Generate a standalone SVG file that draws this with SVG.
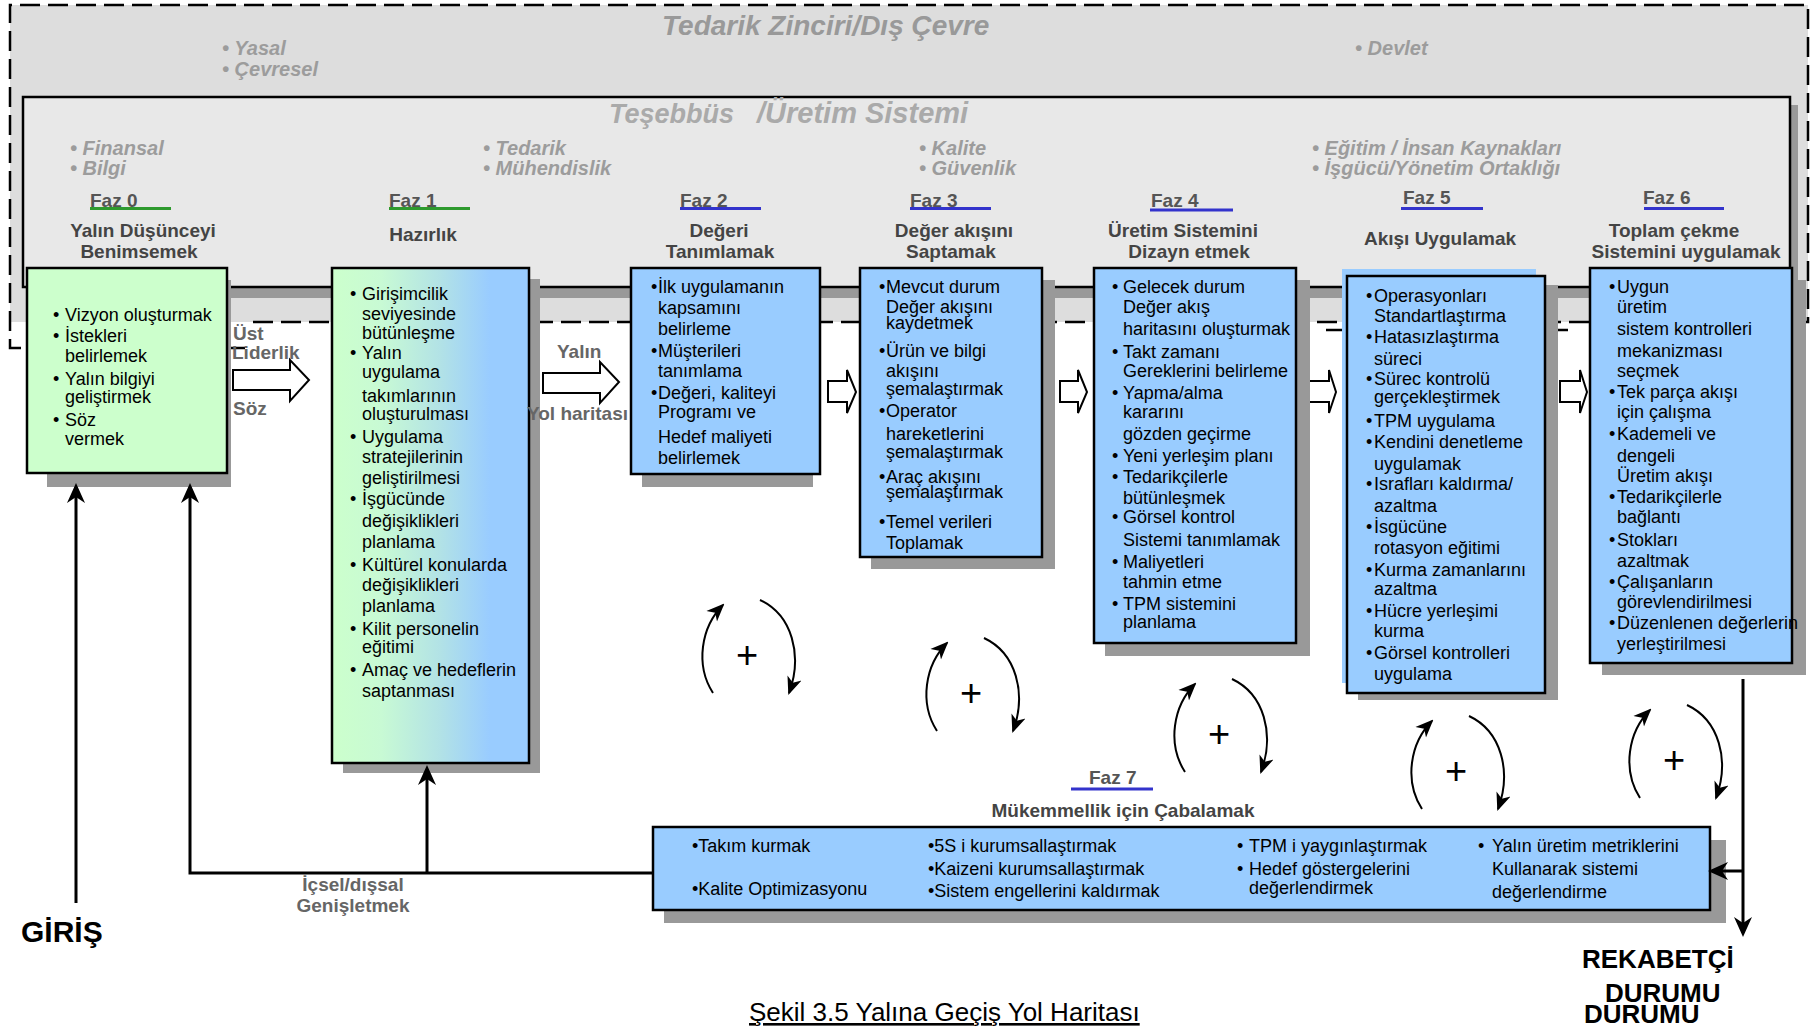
<svg xmlns="http://www.w3.org/2000/svg" width="1811" height="1031" viewBox="0 0 1811 1031">
<style>
text{font-family:"Liberation Sans",Arial,sans-serif;}
.b{font-size:18px;fill:#000;}
.t{font-size:19px;font-weight:bold;fill:#444;text-anchor:middle;}
.f{font-size:19px;font-weight:bold;fill:#555;}
.g{font-size:20px;font-weight:bold;font-style:italic;fill:#9c9c9c;}
.al{font-size:19px;font-weight:bold;fill:#666;}
.big{font-weight:bold;fill:#000;}
.box{stroke:#000;stroke-width:2.5;}
.sh{fill:#999;}
.blue{fill:#99ccff;}
.con{fill:none;stroke:#000;stroke-width:3;}
.loop{fill:none;stroke:#000;stroke-width:2;}
.barrow{fill:#fff;stroke:#000;stroke-width:2;}
.ulg{stroke:#2e9a2e;stroke-width:3;}
.ulb{stroke:#3333cc;stroke-width:3;}
.plus{font-size:38px;fill:#000;text-anchor:middle;}
</style>
<defs>
<linearGradient id="g1" x1="0" y1="0" x2="1" y2="0">
<stop offset="0" stop-color="#ccffcc"/>
<stop offset="0.25" stop-color="#c8fad4"/>
<stop offset="0.55" stop-color="#b2e2e6"/>
<stop offset="0.8" stop-color="#99ccff"/>
<stop offset="1" stop-color="#99ccff"/>
</linearGradient>
<marker id="ah" viewBox="0 0 20 20" refX="16" refY="10" markerWidth="20" markerHeight="20" markerUnits="userSpaceOnUse" orient="auto">
<path d="M0,1 L20,10 L0,19 L6,10 z" fill="#000"/>
</marker>
<marker id="ahs" viewBox="0 0 18 18" refX="16" refY="9" markerWidth="18" markerHeight="18" markerUnits="userSpaceOnUse" orient="auto">
<path d="M0,1.5 L18,9 L0,16.5 L5,9 z" fill="#000"/>
</marker>
<g id="loopArcs">
<path class="loop" d="M -34,38 C -52,10 -46,-28 -24,-50" marker-end="url(#ahs)"/>
<path class="loop" d="M 13,-55 C 45,-40 56,0 42,38" marker-end="url(#ahs)"/>
</g>
</defs>

<!-- Outer environment -->
<g id="env">
<rect x="10" y="5" width="1798" height="317" fill="#dddddd"/>
<path d="M253,322 H1808 V5 H10 V348 H250" fill="none" stroke="#000" stroke-width="2.5" stroke-dasharray="20 8"/>
<text x="662" y="35" font-size="28" font-weight="bold" font-style="italic" fill="#999">Tedarik Zinciri/Dış Çevre</text>
<text class="g" x="222" y="55">• Yasal</text>
<text class="g" x="222" y="76">• Çevresel</text>
<text class="g" x="1355" y="55">• Devlet</text>
</g>

<!-- Inner enterprise system -->
<g id="enterprise">
<rect x="1790" y="105" width="8" height="193" class="sh"/>
<rect x="33" y="288" width="1765" height="10" class="sh"/>
<rect x="23" y="97" width="1767" height="190" fill="#e8e8e8" stroke="#000" stroke-width="2.5"/>
<text x="609" y="123" font-size="27" font-weight="bold" font-style="italic" fill="#aaa">Teşebbüs</text>
<text x="757" y="123" font-size="29" font-weight="bold" font-style="italic" fill="#aaa">/Üretim Sistemi</text>
<text class="g" x="70" y="155">• Finansal</text>
<text class="g" x="70" y="175">• Bilgi</text>
<text class="g" x="483" y="155">• Tedarik</text>
<text class="g" x="483" y="175">• Mühendislik</text>
<text class="g" x="919" y="155">• Kalite</text>
<text class="g" x="919" y="175">• Güvenlik</text>
<text class="g" x="1312" y="155">• Eğitim / İnsan Kaynakları</text>
<text class="g" x="1312" y="175">• İşgücü/Yönetim Ortaklığı</text>

<text class="f" x="90" y="207">Faz 0</text><line class="ulg" x1="90" y1="208.5" x2="171" y2="208.5"/>
<text class="f" x="389" y="207">Faz 1</text><line class="ulg" x1="389" y1="208.5" x2="470" y2="208.5"/>
<text class="f" x="680" y="207">Faz 2</text><line class="ulb" x1="680" y1="208.5" x2="761" y2="208.5"/>
<text class="f" x="910" y="207">Faz 3</text><line class="ulb" x1="910" y1="208.5" x2="991" y2="208.5"/>
<text class="f" x="1151" y="207">Faz 4</text><line class="ulb" x1="1150" y1="210" x2="1233" y2="210"/>
<text class="f" x="1403" y="204">Faz 5</text><line class="ulb" x1="1401" y1="208.5" x2="1483" y2="208.5"/>
<text class="f" x="1643" y="204">Faz 6</text><line class="ulb" x1="1644" y1="208.5" x2="1724" y2="208.5"/>

<text class="t" x="143" y="237">Yalın Düşünceyi</text>
<text class="t" x="139" y="258">Benimsemek</text>
<text class="t" x="423" y="241">Hazırlık</text>
<text class="t" x="719" y="237">Değeri</text>
<text class="t" x="720" y="258">Tanımlamak</text>
<text class="t" x="954" y="237">Değer akışını</text>
<text class="t" x="951" y="258">Saptamak</text>
<text class="t" x="1183" y="237">Üretim Sistemini</text>
<text class="t" x="1189" y="258">Dizayn etmek</text>
<text class="t" x="1440" y="245">Akışı Uygulamak</text>
<text class="t" x="1674" y="237">Toplam çekme</text>
<text class="t" x="1686" y="258">Sistemini uygulamak</text>
</g>

<!-- small fragments -->
<g id="fragments">
<line x1="1326" y1="330" x2="1347" y2="330" stroke="#000" stroke-width="2.5"/>
<line x1="1558" y1="330" x2="1568" y2="330" stroke="#000" stroke-width="2.5"/>
</g>

<!-- block arrows -->
<g id="blockArrows">
<polygon class="barrow" points="233,370 290,370 290,360 309,380 290,401 290,390 233,390"/>
<polygon class="barrow" points="543,373 600,373 600,362 619,382 600,403 600,393 543,393"/>
<polygon class="barrow" points="828,381 847,381 847,370 856,392 847,413 847,402 828,402"/>
<polygon class="barrow" points="1060,381 1078,381 1078,370 1087,392 1078,413 1078,402 1060,402"/>
<polygon class="barrow" points="1309,381 1329,381 1329,370 1336,392 1329,413 1329,402 1309,402"/>
<polygon class="barrow" points="1560,381 1580,381 1580,370 1587,392 1580,413 1580,402 1560,402"/>
</g>

<!-- Faz 0 -->
<g id="faz0">
<rect x="47" y="280" width="184" height="207" class="sh"/>
<rect x="27" y="268" width="200" height="205" fill="#ccffcc" class="box"/>
<text class="b" y="321"><tspan x="53">•</tspan><tspan x="65">Vizyon oluşturmak</tspan></text>
<text class="b" y="342"><tspan x="53">•</tspan><tspan x="65">İstekleri</tspan></text>
<text class="b" x="65" y="362">belirlemek</text>
<text class="b" y="385"><tspan x="53">•</tspan><tspan x="65">Yalın bilgiyi</tspan></text>
<text class="b" x="65" y="403">geliştirmek</text>
<text class="b" y="426"><tspan x="53">•</tspan><tspan x="65">Söz</tspan></text>
<text class="b" x="65" y="445">vermek</text>
</g>

<!-- Faz 1 -->
<g id="faz1">
<rect x="343" y="279" width="197" height="494" class="sh"/>
<rect x="332" y="268" width="197" height="495" fill="url(#g1)" class="box"/>
<text class="b" y="300"><tspan x="350">•</tspan><tspan x="362">Girişimcilik</tspan></text>
<text class="b" x="362" y="320">seviyesinde</text>
<text class="b" x="362" y="339">bütünleşme</text>
<text class="b" y="359"><tspan x="350">•</tspan><tspan x="362">Yalın</tspan></text>
<text class="b" x="362" y="378">uygulama</text>
<text class="b" x="362" y="402">takımlarının</text>
<text class="b" x="362" y="420">oluşturulması</text>
<text class="b" y="443"><tspan x="350">•</tspan><tspan x="362">Uygulama</tspan></text>
<text class="b" x="362" y="463">stratejilerinin</text>
<text class="b" x="362" y="484">geliştirilmesi</text>
<text class="b" y="505"><tspan x="350">•</tspan><tspan x="362">İşgücünde</tspan></text>
<text class="b" x="362" y="527">değişiklikleri</text>
<text class="b" x="362" y="548">planlama</text>
<text class="b" y="571"><tspan x="350">•</tspan><tspan x="362">Kültürel konularda</tspan></text>
<text class="b" x="362" y="591">değişiklikleri</text>
<text class="b" x="362" y="612">planlama</text>
<text class="b" y="635"><tspan x="350">•</tspan><tspan x="362">Kilit personelin</tspan></text>
<text class="b" x="362" y="653">eğitimi</text>
<text class="b" y="676"><tspan x="350">•</tspan><tspan x="362">Amaç ve hedeflerin</tspan></text>
<text class="b" x="362" y="697">saptanması</text>
</g>

<!-- arrow labels -->
<g id="arrowLabels">
<text class="al" x="233" y="340">Üst</text>
<text class="al" x="232" y="359">Liderlik</text>
<text class="al" x="233" y="415">Söz</text>
<text class="al" x="557" y="358">Yalın</text>
<text class="al" x="527" y="420">Yol haritası</text>
</g>

<!-- Faz 2 -->
<g id="faz2">
<rect x="642" y="280" width="171" height="207" class="sh"/>
<rect x="631" y="268" width="189" height="206" class="blue box"/>
<text class="b" y="293"><tspan x="651">•</tspan><tspan x="658">İlk uygulamanın</tspan></text>
<text class="b" x="658" y="314">kapsamını</text>
<text class="b" x="658" y="335">belirleme</text>
<text class="b" y="357"><tspan x="651">•</tspan><tspan x="658">Müşterileri</tspan></text>
<text class="b" x="658" y="377">tanımlama</text>
<text class="b" y="399"><tspan x="651">•</tspan><tspan x="658">Değeri, kaliteyi</tspan></text>
<text class="b" x="658" y="418">Programı ve</text>
<text class="b" x="658" y="443">Hedef maliyeti</text>
<text class="b" x="658" y="464">belirlemek</text>
</g>

<!-- Faz 3 -->
<g id="faz3">
<rect x="871" y="280" width="184" height="289" class="sh"/>
<rect x="860" y="268" width="182" height="289" class="blue box"/>
<text class="b" y="293"><tspan x="879">•</tspan><tspan x="886">Mevcut durum</tspan></text>
<text class="b" x="886" y="313">Değer akışını</text>
<text class="b" x="886" y="329">kaydetmek</text>
<text class="b" y="357"><tspan x="879">•</tspan><tspan x="886">Ürün ve bilgi</tspan></text>
<text class="b" x="886" y="377">akışını</text>
<text class="b" x="886" y="395">şemalaştırmak</text>
<text class="b" y="417"><tspan x="879">•</tspan><tspan x="886">Operator</tspan></text>
<text class="b" x="886" y="440">hareketlerini</text>
<text class="b" x="886" y="458">şemalaştırmak</text>
<text class="b" y="483"><tspan x="879">•</tspan><tspan x="886">Araç akışını</tspan></text>
<text class="b" x="886" y="498">şemalaştırmak</text>
<text class="b" y="528"><tspan x="879">•</tspan><tspan x="886">Temel verileri</tspan></text>
<text class="b" x="886" y="549">Toplamak</text>
</g>

<!-- Faz 4 -->
<g id="faz4">
<rect x="1105" y="280" width="205" height="376" class="sh"/>
<rect x="1094" y="268" width="202" height="375" class="blue box"/>
<text class="b" y="293"><tspan x="1112">•</tspan><tspan x="1123">Gelecek durum</tspan></text>
<text class="b" x="1123" y="313">Değer akış</text>
<text class="b" x="1123" y="335">haritasını oluşturmak</text>
<text class="b" y="358"><tspan x="1112">•</tspan><tspan x="1123">Takt zamanı</tspan></text>
<text class="b" x="1123" y="377">Gereklerini belirleme</text>
<text class="b" y="399"><tspan x="1112">•</tspan><tspan x="1123">Yapma/alma</tspan></text>
<text class="b" x="1123" y="418">kararını</text>
<text class="b" x="1123" y="440">gözden geçirme</text>
<text class="b" y="462"><tspan x="1112">•</tspan><tspan x="1123">Yeni yerleşim planı</tspan></text>
<text class="b" y="483"><tspan x="1112">•</tspan><tspan x="1123">Tedarikçilerle</tspan></text>
<text class="b" x="1123" y="504">bütünleşmek</text>
<text class="b" y="523"><tspan x="1112">•</tspan><tspan x="1123">Görsel kontrol</tspan></text>
<text class="b" x="1123" y="546">Sistemi tanımlamak</text>
<text class="b" y="568"><tspan x="1112">•</tspan><tspan x="1123">Maliyetleri</tspan></text>
<text class="b" x="1123" y="588">tahmin etme</text>
<text class="b" y="610"><tspan x="1112">•</tspan><tspan x="1123">TPM sistemini</tspan></text>
<text class="b" x="1123" y="628">planlama</text>
</g>

<!-- Faz 5 -->
<g id="faz5">
<rect x="1358" y="285" width="200" height="415" class="sh"/>
<rect x="1342" y="269" width="194" height="414" class="blue"/>
<rect x="1347" y="276" width="198" height="417" class="blue box"/>
<text class="b" y="302"><tspan x="1366">•</tspan><tspan x="1374">Operasyonları</tspan></text>
<text class="b" x="1374" y="322">Standartlaştırma</text>
<text class="b" y="343"><tspan x="1366">•</tspan><tspan x="1374">Hatasızlaştırma</tspan></text>
<text class="b" x="1374" y="365">süreci</text>
<text class="b" y="385"><tspan x="1366">•</tspan><tspan x="1374">Sürec kontrolü</tspan></text>
<text class="b" x="1374" y="403">gerçekleştirmek</text>
<text class="b" y="427"><tspan x="1366">•</tspan><tspan x="1374">TPM uygulama</tspan></text>
<text class="b" y="448"><tspan x="1366">•</tspan><tspan x="1374">Kendini denetleme</tspan></text>
<text class="b" x="1374" y="470">uygulamak</text>
<text class="b" y="490"><tspan x="1366">•</tspan><tspan x="1374">Israfları kaldırma/</tspan></text>
<text class="b" x="1374" y="512">azaltma</text>
<text class="b" y="533"><tspan x="1366">•</tspan><tspan x="1374">İsgücüne</tspan></text>
<text class="b" x="1374" y="554">rotasyon eğitimi</text>
<text class="b" y="576"><tspan x="1366">•</tspan><tspan x="1374">Kurma zamanlarını</tspan></text>
<text class="b" x="1374" y="595">azaltma</text>
<text class="b" y="617"><tspan x="1366">•</tspan><tspan x="1374">Hücre yerleşimi</tspan></text>
<text class="b" x="1374" y="637">kurma</text>
<text class="b" y="659"><tspan x="1366">•</tspan><tspan x="1374">Görsel kontrolleri</tspan></text>
<text class="b" x="1374" y="680">uygulama</text>
</g>

<!-- Faz 6 -->
<g id="faz6">
<rect x="1602" y="280" width="204" height="395" class="sh"/>
<rect x="1590" y="268" width="202" height="395" class="blue box"/>
<text class="b" y="293"><tspan x="1609">•</tspan><tspan x="1617">Uygun</tspan></text>
<text class="b" x="1617" y="313">üretim</text>
<text class="b" x="1617" y="335">sistem kontrolleri</text>
<text class="b" x="1617" y="357">mekanizması</text>
<text class="b" x="1617" y="377">seçmek</text>
<text class="b" y="398"><tspan x="1609">•</tspan><tspan x="1617">Tek parça akışı</tspan></text>
<text class="b" x="1617" y="418">için çalışma</text>
<text class="b" y="440"><tspan x="1609">•</tspan><tspan x="1617">Kademeli ve</tspan></text>
<text class="b" x="1617" y="462">dengeli</text>
<text class="b" x="1617" y="482">Üretim akışı</text>
<text class="b" y="503"><tspan x="1609">•</tspan><tspan x="1617">Tedarikçilerle</tspan></text>
<text class="b" x="1617" y="523">bağlantı</text>
<text class="b" y="546"><tspan x="1609">•</tspan><tspan x="1617">Stokları</tspan></text>
<text class="b" x="1617" y="567">azaltmak</text>
<text class="b" y="588"><tspan x="1609">•</tspan><tspan x="1617">Çalışanların</tspan></text>
<text class="b" x="1617" y="608">görevlendirilmesi</text>
<text class="b" y="629"><tspan x="1609">•</tspan><tspan x="1617">Düzenlenen değerlerin</tspan></text>
<text class="b" x="1617" y="650">yerleştirilmesi</text>
</g>

<!-- Faz 7 -->
<g id="faz7">
<text class="f" x="1089" y="784">Faz 7</text><line class="ulb" x1="1071" y1="789" x2="1153" y2="789"/>
<text class="t" x="1123" y="817">Mükemmellik için Çabalamak</text>
<rect x="664" y="840" width="1062" height="83" class="sh"/>
<rect x="653" y="827" width="1057" height="83" class="blue box"/>
<text class="b" x="692" y="852">•Takım kurmak</text>
<text class="b" x="692" y="895">•Kalite Optimizasyonu</text>
<text class="b" x="928" y="852">•5S i kurumsallaştırmak</text>
<text class="b" x="928" y="875">•Kaizeni kurumsallaştırmak</text>
<text class="b" x="928" y="897">•Sistem engellerini kaldırmak</text>
<text class="b" y="852"><tspan x="1237">•</tspan><tspan x="1249">TPM i yaygınlaştırmak</tspan></text>
<text class="b" y="875"><tspan x="1237">•</tspan><tspan x="1249">Hedef göstergelerini</tspan></text>
<text class="b" x="1249" y="894">değerlendirmek</text>
<text class="b" y="852"><tspan x="1478">•</tspan><tspan x="1492">Yalın üretim metriklerini</tspan></text>
<text class="b" x="1492" y="875">Kullanarak sistemi</text>
<text class="b" x="1492" y="898">değerlendirme</text>
</g>

<!-- connectors -->
<g id="connectors">
<line class="con" x1="76" y1="903" x2="76" y2="487" marker-end="url(#ah)"/>
<polyline class="con" points="653,873 190,873 190,487" marker-end="url(#ah)"/>
<line class="con" x1="427" y1="873" x2="427" y2="769" marker-end="url(#ah)"/>
<line class="con" x1="1743" y1="679" x2="1743" y2="933" marker-end="url(#ah)"/>
<line class="con" x1="1743" y1="871" x2="1712" y2="871" marker-end="url(#ah)"/>
</g>

<!-- improvement loops -->
<g id="loop1" transform="translate(747,655)"><use href="#loopArcs"/><text class="plus" x="0" y="13">+</text></g>
<g id="loop2" transform="translate(971,693)"><use href="#loopArcs"/><text class="plus" x="0" y="13">+</text></g>
<g id="loop3" transform="translate(1219,734)"><use href="#loopArcs"/><text class="plus" x="0" y="13">+</text></g>
<g id="loop4" transform="translate(1456,771)"><use href="#loopArcs"/><text class="plus" x="0" y="13">+</text></g>
<g id="loop5" transform="translate(1674,760)"><use href="#loopArcs"/><text class="plus" x="0" y="13">+</text></g>

<!-- bottom labels -->
<g id="labels">
<text class="al" x="353" y="891" text-anchor="middle" fill="#555">İçsel/dışsal</text>
<text class="al" x="353" y="912" text-anchor="middle" fill="#555">Genişletmek</text>
<text class="big" x="21" y="942" font-size="30">GİRİŞ</text>
<text class="big" x="1582" y="968" font-size="26">REKABETÇİ</text>
<text class="big" x="1605" y="1002" font-size="26">DURUMU</text>
<text class="big" x="1584" y="1023" font-size="26">DURUMU</text>
<text x="749" y="1021" font-size="26" fill="#000" text-decoration="underline">Şekil 3.5 Yalına Geçiş Yol Haritası</text>
</g>
</svg>
